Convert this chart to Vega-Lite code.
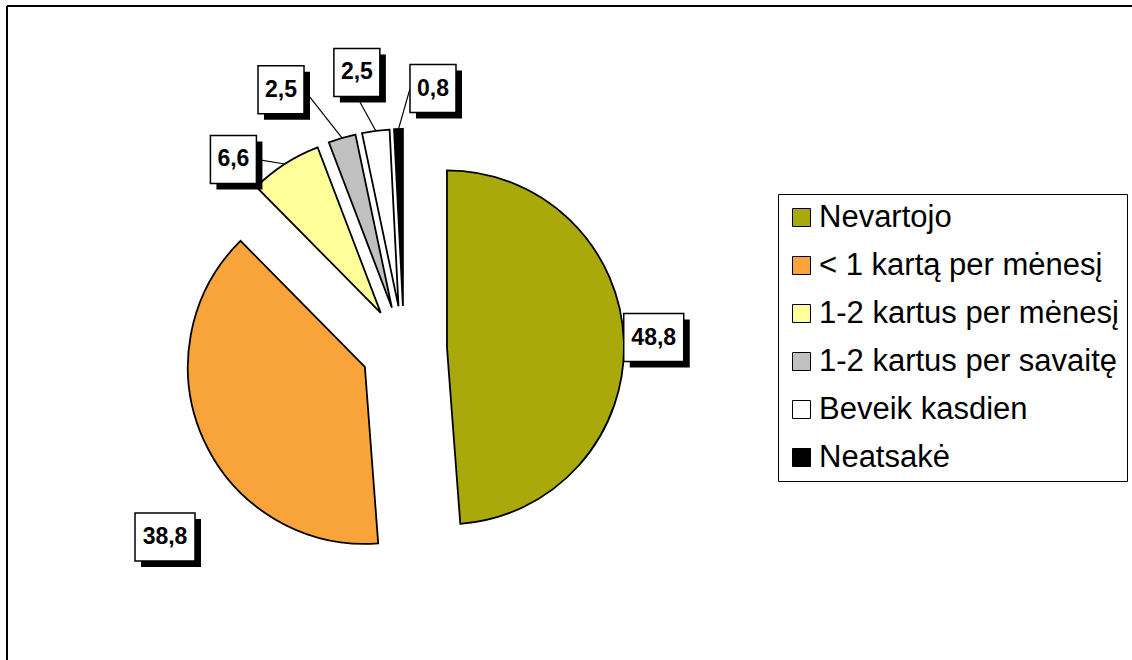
{
  "$schema": "https://vega.github.io/schema/vega-lite/v6.json",
  "autosize": {"type": "none"},
  "padding": {"left": 7, "top": 6, "right": 0, "bottom": 0},
  "width": 1125,
  "height": 654,
  "background": "white",
  "config": {
    "view": {"stroke": null},
    "locale": {"number": {"decimal": ",", "thousands": " ", "grouping": [3], "currency": ["", " €"]}}
  },
  "data": {
    "values": [
      {"cat": "Nevartojo", "value": 48.8, "order": 0},
      {"cat": "< 1 kartą per mėnesį", "value": 38.8, "order": 1},
      {"cat": "1-2 kartus per mėnesį", "value": 6.6, "order": 2},
      {"cat": "1-2 kartus per savaitę", "value": 2.5, "order": 3},
      {"cat": "Beveik kasdien", "value": 2.5, "order": 4},
      {"cat": "Neatsakė", "value": 0.8, "order": 5}
    ]
  },
  "transform": [
    {"stack": "value", "groupby": [], "sort": [{"field": "order", "order": "ascending"}], "as": ["v0", "v1"]}
  ],
  "layer": [
    {
      "mark": {"type": "rule", "color": "black", "strokeWidth": 2},
      "encoding": {"y": {"value": 0}}
    },
    {
      "mark": {"type": "rule", "color": "black", "strokeWidth": 2},
      "encoding": {"x": {"value": 0}}
    },
    {
      "mark": {
        "type": "arc",
        "radius": 177,
        "stroke": "black",
        "strokeWidth": 1.8,
        "x": {"expr": "397 + 43*sin(PI*(datum.v0+datum.v1)/100)"},
        "y": {"expr": "343 - 43*cos(PI*(datum.v0+datum.v1)/100)"}
      },
      "encoding": {
        "theta": {"field": "v0", "type": "quantitative", "stack": null, "scale": {"domain": [0, 100], "range": [0, 6.283185307179586]}},
        "theta2": {"field": "v1"},
        "color": {
          "field": "cat",
          "type": "nominal",
          "scale": {
            "domain": ["Nevartojo", "< 1 kartą per mėnesį", "1-2 kartus per mėnesį", "1-2 kartus per savaitę", "Beveik kasdien", "Neatsakė"],
            "range": ["#A9A90C", "#F8A43A", "#FFFF99", "#C0C0C0", "#FFFFFF", "#000000"]
          },
          "legend": {
            "title": null,
            "orient": "none",
            "legendX": 771,
            "legendY": 188,
            "symbolType": "square",
            "symbolSize": 324,
            "symbolStrokeColor": "black",
            "symbolStrokeWidth": 1,
            "symbolOpacity": 1,
            "labelFont": "Liberation Sans",
            "labelFontSize": 31,
            "labelColor": "black",
            "labelOffset": 2,
            "labelLimit": 0,
            "rowPadding": 16,
            "padding": 8,
            "strokeColor": "black",
            "fillColor": "white"
          }
        },
        "order": {"field": "order"}
      }
    },
    {
      "transform": [{"filter": "datum.order >= 2"}],
      "mark": {"type": "rule", "color": "black", "strokeWidth": 1.2},
      "encoding": {
        "x": {"value": {"expr": "397 + 220*sin(PI*(datum.v0+datum.v1)/100)"}},
        "y": {"value": {"expr": "343 - 220*cos(PI*(datum.v0+datum.v1)/100)"}},
        "x2": {"value": {"expr": "397+(250+[0,54,5,37,30.5,12][datum.order])*sin(PI*(datum.v0+datum.v1)/100+[-0.008,-0.239,-0.161,-0.157,-0.04,0.136][datum.order]) + [0,0,23,23,0,-23][datum.order]"}},
        "y2": {"value": {"expr": "343-(250+[0,54,5,37,30.5,12][datum.order])*cos(PI*(datum.v0+datum.v1)/100+[-0.008,-0.239,-0.161,-0.157,-0.04,0.136][datum.order]) + [0,0,0,0,24,0][datum.order]"}}
      }
    },
    {
      "mark": {"type": "rect", "color": "black"},
      "encoding": {
        "x": {"value": {"expr": "397+(250+[0,54,5,37,30.5,12][datum.order])*sin(PI*(datum.v0+datum.v1)/100+[-0.008,-0.239,-0.161,-0.157,-0.04,0.136][datum.order]) - (datum.value>=10?30:23) + 6"}},
        "x2": {"value": {"expr": "397+(250+[0,54,5,37,30.5,12][datum.order])*sin(PI*(datum.v0+datum.v1)/100+[-0.008,-0.239,-0.161,-0.157,-0.04,0.136][datum.order]) + (datum.value>=10?30:23) + 6"}},
        "y": {"value": {"expr": "343-(250+[0,54,5,37,30.5,12][datum.order])*cos(PI*(datum.v0+datum.v1)/100+[-0.008,-0.239,-0.161,-0.157,-0.04,0.136][datum.order]) - 24 + 6"}},
        "y2": {"value": {"expr": "343-(250+[0,54,5,37,30.5,12][datum.order])*cos(PI*(datum.v0+datum.v1)/100+[-0.008,-0.239,-0.161,-0.157,-0.04,0.136][datum.order]) + 24 + 6"}}
      }
    },
    {
      "mark": {"type": "rect", "fill": "white", "stroke": "black", "strokeWidth": 1.5},
      "encoding": {
        "x": {"value": {"expr": "397+(250+[0,54,5,37,30.5,12][datum.order])*sin(PI*(datum.v0+datum.v1)/100+[-0.008,-0.239,-0.161,-0.157,-0.04,0.136][datum.order]) - (datum.value>=10?30:23)"}},
        "x2": {"value": {"expr": "397+(250+[0,54,5,37,30.5,12][datum.order])*sin(PI*(datum.v0+datum.v1)/100+[-0.008,-0.239,-0.161,-0.157,-0.04,0.136][datum.order]) + (datum.value>=10?30:23)"}},
        "y": {"value": {"expr": "343-(250+[0,54,5,37,30.5,12][datum.order])*cos(PI*(datum.v0+datum.v1)/100+[-0.008,-0.239,-0.161,-0.157,-0.04,0.136][datum.order]) - 24"}},
        "y2": {"value": {"expr": "343-(250+[0,54,5,37,30.5,12][datum.order])*cos(PI*(datum.v0+datum.v1)/100+[-0.008,-0.239,-0.161,-0.157,-0.04,0.136][datum.order]) + 24"}}
      }
    },
    {
      "mark": {
        "type": "text", "font": "Liberation Sans", "fontWeight": "bold", "fontSize": 23, "color": "black",
        "align": "center", "baseline": "middle", "x": 397, "y": 343,
        "theta": {"expr": "PI*(datum.v0+datum.v1)/100 + [-0.008,-0.239,-0.161,-0.157,-0.04,0.136][datum.order]"},
        "radius": {"expr": "250 + [0,54,5,37,30.5,12][datum.order]"}
      },
      "encoding": {
        "text": {"field": "value", "type": "quantitative", "format": ".1f"}
      }
    }
  ]
}
